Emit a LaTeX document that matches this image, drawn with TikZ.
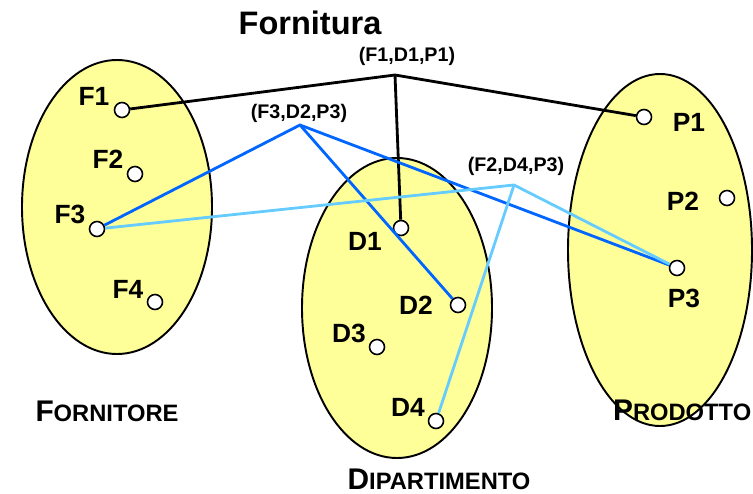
\documentclass[tikz,border=0pt]{standalone}
\usepackage{fontspec}
\setmainfont{Liberation Sans}
\definecolor{setfill}{RGB}{255,255,153}
\definecolor{tupblue}{RGB}{0,102,255}
\definecolor{tuplight}{RGB}{102,204,255}
\tikzset{
  pt/.style={circle,draw,fill=white,line width=0.9pt,inner sep=0pt,minimum size=0.3cm},
  elab/.style={font=\fontsize{15}{15}\selectfont\bfseries},
  tlab/.style={font=\fontsize{11.2}{11.2}\selectfont\bfseries},
  setlab/.style={font=\fontsize{13.5}{13.5}\selectfont\bfseries,inner sep=1pt},
  setbox/.style={draw,fill=setfill,line width=1.1pt},
  link/.style={line width=1.6pt}
}
\newcommand{\initcap}[1]{{\fontsize{17}{17}\selectfont #1}}
\begin{document}
\begin{tikzpicture}[x=0.02cm,y=-0.02cm]
\useasboundingbox (0,0) rectangle (753,493);
% insiemi
\draw[setbox] (117,207) ellipse [x radius=95, y radius=147];
\draw[setbox] (397,308) ellipse [x radius=95, y radius=150];
\draw[setbox] (660,250) ellipse [x radius=92, y radius=176];
\node[font=\fontsize{18.5}{18.5}\selectfont\bfseries] (title) at (310,23) {Fornitura};
% elementi
\node[pt] (f1) at (122,110) {};
\node[pt] (f2) at (135,174) {};
\node[pt] (f3) at (97,229) {};
\node[pt] (f4) at (155,302) {};
\node[pt] (d1) at (401,228) {};
\node[pt] (d2) at (458,305) {};
\node[pt] (d3) at (377,347) {};
\node[pt] (d4) at (436,421) {};
\node[pt] (p1) at (644,117) {};
\node[pt] (p2) at (727,198) {};
\node[pt] (p3) at (677,268) {};
\node[elab] (lf1) at (94,96) {F1};
\node[elab] (lf2) at (108,159) {F2};
\node[elab] (lf3) at (70,214) {F3};
\node[elab] (lf4) at (128,289) {F4};
\node[elab] (ld1) at (365,241) {D1};
\node[elab] (ld2) at (416,305) {D2};
\node[elab] (ld3) at (349,333) {D3};
\node[elab] (ld4) at (408,407) {D4};
\node[elab] (lp1) at (689,122) {P1};
\node[elab] (lp2) at (683,201) {P2};
\node[elab] (lp3) at (684,298) {P3};
% ennuple
\coordinate (t1) at (395,75);
\coordinate (t2) at (300,125);
\coordinate (t3) at (514,185);
\node[tlab] (lt1) at (407,56) {(F1,D1,P1)};
\node[tlab] (lt2) at (299,113) {(F3,D2,P3)};
\node[tlab] (lt3) at (516,166) {(F2,D4,P3)};
\draw[link] (f1) -- (t1) -- (p1);
\draw[link] (t1) -- (d1);
\draw[link,color=tupblue] (f3) -- (t2) -- (p3);
\draw[link,color=tupblue] (t2) -- (d2);
\draw[link,color=tuplight] (f3) -- (t3) -- (p3);
\draw[link,color=tuplight] (t3) -- (d4);
% nomi degli insiemi
\node[setlab] (nf) at (107,411) {\initcap{F}ORNITORE};
\node[setlab] (nd) at (439,479) {\initcap{D}IPARTIMENTO};
\node[setlab,anchor=west] (np) at (611,410) {\initcap{P}RODOTTO};
\end{tikzpicture}
\end{document}
